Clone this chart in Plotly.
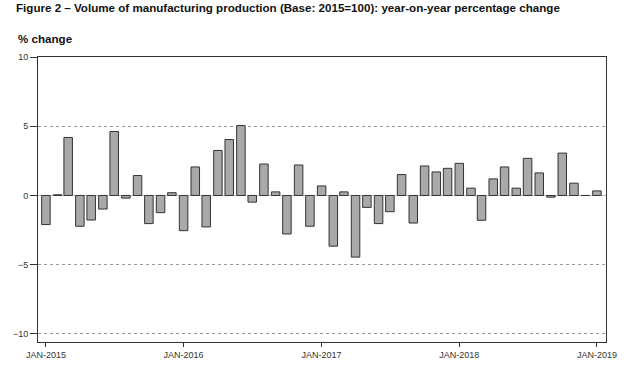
import plotly.graph_objects as go
import pandas as pd

months = pd.date_range("2015-01-01", periods=49, freq="MS")
values = [
    -2.10, 0.05, 4.19, -2.22, -1.77, -0.98, 4.62, -0.19, 1.44, -2.03, -1.24, 0.20,
    -2.54, 2.06, -2.27, 3.25, 4.04, 5.05, -0.48, 2.27, 0.26, -2.78, 2.20, -2.22,
    0.69, -3.66, 0.26, -4.45, -0.86, -2.03, -1.17, 1.51, -1.99, 2.13, 1.70, 1.96,
    2.32, 0.53, -1.79, 1.20, 2.06, 0.53, 2.68, 1.63, -0.12, 3.06, 0.89, 0.00,
    0.33,
]
tick_dates = ["2015-01-01", "2016-01-01", "2017-01-01", "2018-01-01", "2019-01-01"]
tick_labels = ["JAN-2015", "JAN-2016", "JAN-2017", "JAN-2018", "JAN-2019"]
y_ticks = [-10, -5, 0, 5, 10]

DAY_MS = 86400000
fig = go.Figure(go.Bar(
    x=months, y=values,
    width=0.74 * 30.44 * DAY_MS,
    marker=dict(color="#a9a9a9", line=dict(color="#333333", width=1)),
))

fig.update_layout(
    width=640, height=376,
    margin=dict(l=38, r=34, t=57, b=34),
    paper_bgcolor="white", plot_bgcolor="white",
    showlegend=False,
    font=dict(family="Liberation Sans, Arial, sans-serif", color="#333333"),
    title=dict(
        text="<b>Figure 2 – Volume of manufacturing production (Base: 2015=100): year-on-year percentage change</b>",
        x=16 / 640, xanchor="left", xref="container",
        y=1 - 8 / 376, yanchor="middle", yref="container",
        font=dict(size=11.6, color="#111111"),
    ),
    annotations=[
        dict(text="<b>% change</b>", xref="paper", yref="paper",
             x=(16 - 38) / 568, y=1 + (57 - 38) / 285,
             xanchor="left", yanchor="middle", showarrow=False,
             font=dict(size=11.6, color="#111111")),
    ],
)
fig.update_xaxes(
    type="date",
    range=["2014-12-11", "2019-01-25"],
    tickvals=tick_dates, ticktext=tick_labels,
    ticks="outside", ticklen=4, tickcolor="#333333",
    tickfont=dict(size=9, color="#333333"),
    showgrid=False, showline=True, linecolor="#333333", linewidth=1, mirror=True,
    zeroline=False,
)
fig.update_yaxes(
    range=[-10.58, 10],
    tickvals=y_ticks,
    ticks="outside", ticklen=7, tickcolor="#333333",
    tickfont=dict(size=9, color="#333333"),
    showgrid=True, gridcolor="#999999", griddash="dot", gridwidth=1,
    zeroline=True, zerolinecolor="#bbbbbb", zerolinewidth=1,
    showline=True, linecolor="#333333", linewidth=1, mirror=True,
)

fig.write_html("out.html", config={"displayModeBar": False},
               post_script="document.body.style.margin='0';")
